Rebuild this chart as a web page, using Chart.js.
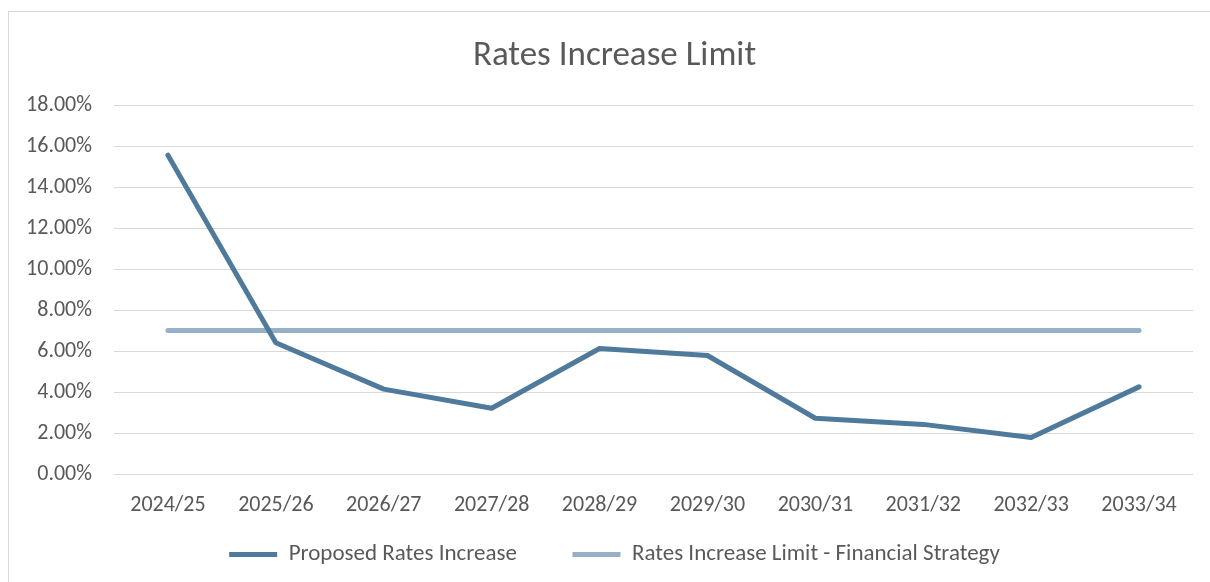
<!DOCTYPE html>
<html>
<head>
<meta charset="utf-8">
<script src="https://cdn.jsdelivr.net/npm/chart.js@4"></script>
<style>
  html, body { margin: 0; padding: 0; background: #fff; }
  #wrap { position: relative; width: 1210px; height: 582px; }
  #frame { position: absolute; left: 8px; top: 11px; right: 0; bottom: 0;
           border-left: 1px solid #d9d9d9; border-top: 1px solid #d9d9d9; }
  canvas { position: absolute; left: 0; top: 0; }
</style>
</head>
<body>
<div id="wrap">
  <div id="frame"></div>
  <canvas id="myChart" width="1210" height="582"></canvas>
</div>
<script>
const years = ['2024/25','2025/26','2026/27','2027/28','2028/29','2029/30','2030/31','2031/32','2032/33','2033/34'];
const proposed = [15.55, 6.40, 4.14, 3.21, 6.12, 5.78, 2.72, 2.42, 1.78, 4.25];
const limit = [7, 7, 7, 7, 7, 7, 7, 7, 7, 7];
const yTicks = [0, 2, 4, 6, 8, 10, 12, 14, 16, 18];

const font = 'Carlito, Calibri, Lato, sans-serif';
const grey = '#595959';

(() => {
  'use strict'

  const ctx = document.getElementById('myChart');
  new Chart(ctx, {
    type: 'line',
    data: {
      labels: years,
      datasets: [{
        label: 'Proposed Rates Increase',
        data: proposed,
        borderColor: '#4f7a9c',
        backgroundColor: '#4f7a9c',
        borderWidth: 5,
        borderCapStyle: 'round',
        borderJoinStyle: 'round',
        pointRadius: 0,
        tension: 0
      }, {
        label: 'Rates Increase Limit - Financial Strategy',
        data: limit,
        borderColor: '#95b0c7',
        backgroundColor: '#95b0c7',
        borderWidth: 5,
        borderCapStyle: 'round',
        pointRadius: 0,
        tension: 0
      }]
    },
    options: {
      responsive: false,
      animation: false,
      layout: { padding: { left: 28, right: 9, top: 0, bottom: 6 } },
      plugins: {
        title: {
          display: true,
          text: 'Rates Increase Limit',
          color: grey,
          font: { family: font, size: 35, weight: 'normal' },
          padding: { top: 35, bottom: 28 }
        },
        legend: {
          position: 'bottom',
          labels: {
            color: grey,
            font: { family: font, size: 23 },
            boxWidth: 48,
            boxHeight: 5,
            padding: 14,
            // first entry gets extra trailing room so the two items sit as far apart as in the original
            generateLabels: (chart) => chart.data.datasets.map((ds, i) => ({
              text: i === 0 ? ds.label + '        ' : ds.label,
              fillStyle: ds.borderColor,
              strokeStyle: ds.borderColor,
              lineWidth: 0,
              fontColor: grey,
              datasetIndex: i,
              hidden: false
            }))
          }
        },
        tooltip: { enabled: false }
      },
      scales: {
        x: {
          offset: true,
          grid: { display: false, drawTicks: false },
          border: { display: false },
          ticks: { color: grey, font: { family: font, size: 22 }, padding: 18, maxRotation: 0 },
          afterFit: (s) => { s.height = 55; }
        },
        y: {
          min: 0,
          max: 18,
          afterBuildTicks: (s) => { s.ticks = yTicks.map(v => ({ value: v })); },
          grid: { color: '#d9d9d9', lineWidth: 1, drawTicks: false },
          border: { display: false },
          ticks: {
            color: grey,
            font: { family: font, size: 22 },
            padding: 22,
            callback: (v) => v.toFixed(2) + '%'
          },
          afterFit: (s) => { s.width = 86; }
        },
        // empty spacer on the right so the plot ends where the original does
        yRight: {
          position: 'right',
          min: 0,
          max: 18,
          grid: { display: false, drawTicks: false },
          border: { display: false },
          ticks: { display: false },
          afterFit: (s) => { s.width = 8; }
        }
      }
    }
  })
})()
</script>
</body>
</html>
